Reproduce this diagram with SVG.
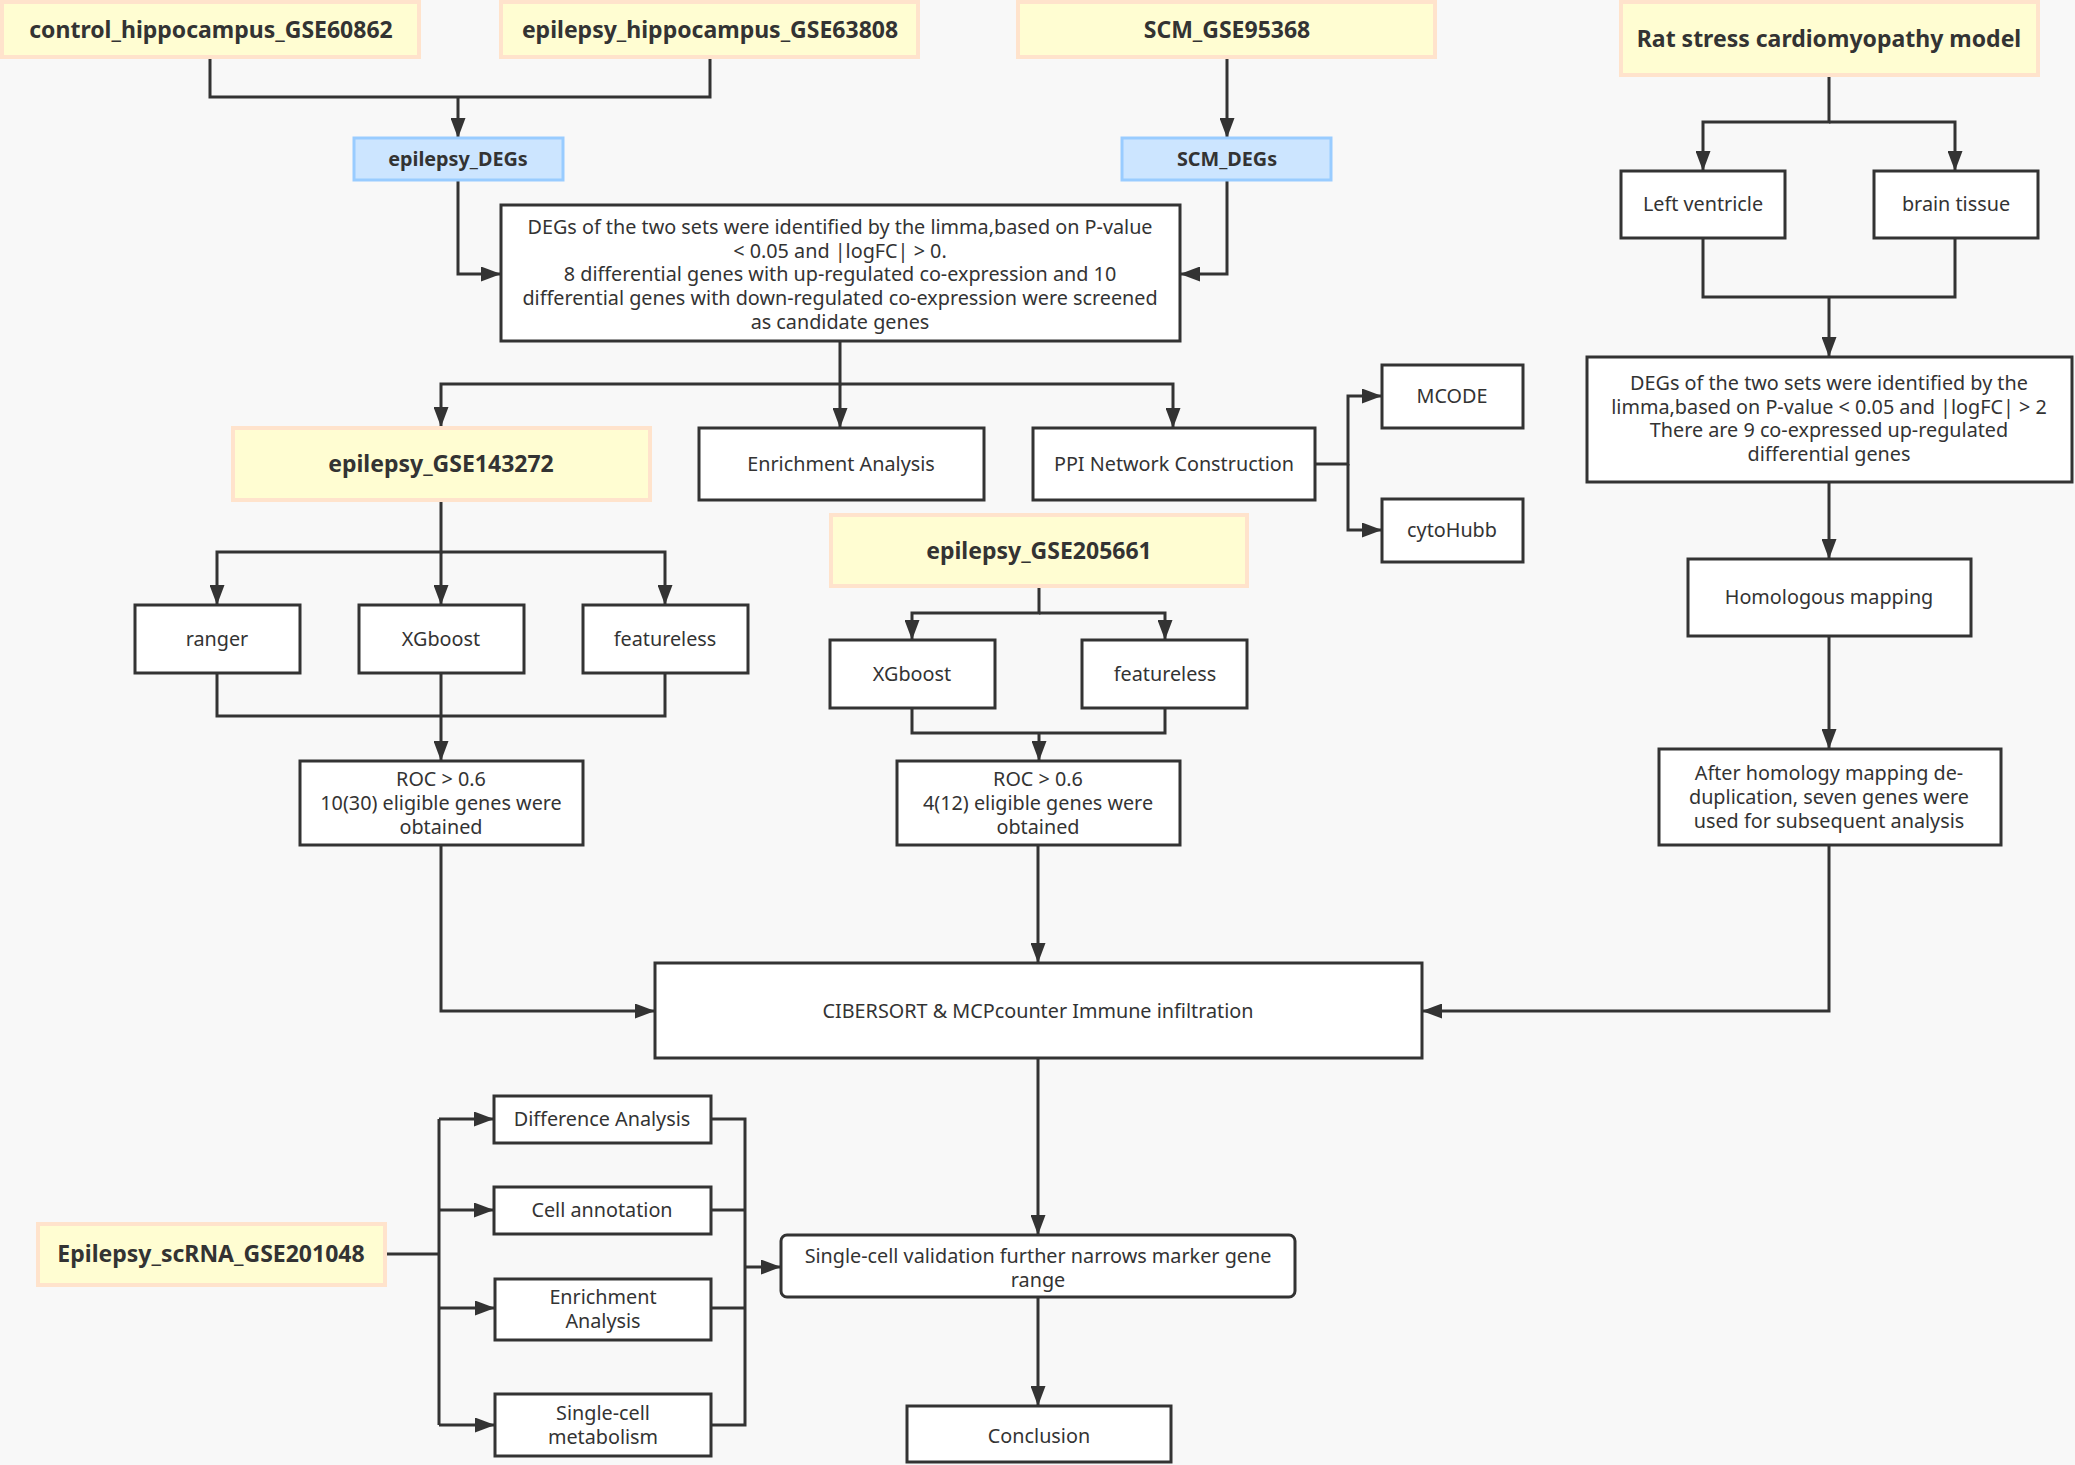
<svg xmlns="http://www.w3.org/2000/svg" width="2075" height="1465" viewBox="0 0 2075 1465">
<style>
.bg{fill:#f8f8f8}
.box{fill:#ffffff;stroke:#333333;stroke-width:3}
.src{fill:#fffdd2;stroke:#ffe3cc;stroke-width:4}
.deg{fill:#cce5ff;stroke:#99ccff;stroke-width:3}
text{font-family:"Noto Sans","Open Sans","DejaVu Sans",sans-serif;fill:#333333;text-anchor:middle;dominant-baseline:central}
.t{font-size:19.8px}
.b{font-size:23px;font-weight:bold}
.bd{font-size:19.8px;font-weight:bold}
.ln{fill:none;stroke:#333333;stroke-width:3}
.ar{fill:none;stroke:#333333;stroke-width:3;marker-end:url(#ah)}
</style>
<defs>
<marker id="ah" markerUnits="userSpaceOnUse" markerWidth="20" markerHeight="15" refX="19" refY="7.5" orient="auto">
<path d="M0,0 L20,7.5 L0,15 z" fill="#333333"/>
</marker>
</defs>
<rect class="bg" x="0" y="0" width="2075" height="1465"/>

<g id="connectors">
<path class="ln" d="M210 59 V97 H710 V59"/>
<path class="ar" d="M458 97 V137"/>
<path class="ar" d="M1227 59 V137"/>
<path class="ar" d="M458 181 V274 H500"/>
<path class="ar" d="M1227 181 V274 H1181"/>
<path class="ar" d="M840 341 V384 H441 V426"/>
<path class="ar" d="M840 384 V427"/>
<path class="ar" d="M840 384 H1173 V427"/>
<path class="ar" d="M1315 464 H1348 V396 H1381"/>
<path class="ar" d="M1348 464 V530 H1381"/>
<path class="ar" d="M1829 77 V122 H1703 V170"/>
<path class="ar" d="M1829 122 H1955 V170"/>
<path class="ln" d="M1703 238 V297 H1955 V238"/>
<path class="ar" d="M1829 297 V356"/>
<path class="ar" d="M1829 482 V558"/>
<path class="ar" d="M1829 636 V748"/>
<path class="ar" d="M1829 845 V1011 H1423"/>
<path class="ar" d="M441 502 V552 H217 V604"/>
<path class="ar" d="M441 552 V604"/>
<path class="ar" d="M441 552 H665 V604"/>
<path class="ln" d="M217 673 V716 H665 V673"/>
<path class="ar" d="M441 673 V760"/>
<path class="ar" d="M1039 588 V613 H912 V639"/>
<path class="ar" d="M1039 613 H1165 V639"/>
<path class="ln" d="M912 708 V733 H1165 V708"/>
<path class="ar" d="M1039 733 V760"/>
<path class="ar" d="M441 845 V1011 H654"/>
<path class="ar" d="M1038 845 V962"/>
<path class="ar" d="M1038 1058 V1234"/>
<path class="ar" d="M1038 1297 V1405"/>
<path class="ln" d="M385 1254 H439"/>
<path class="ln" d="M439 1119 V1425"/>
<path class="ar" d="M439 1119 H493"/>
<path class="ar" d="M439 1210 H493"/>
<path class="ar" d="M439 1308 H494"/>
<path class="ar" d="M439 1425 H494"/>
<path class="ln" d="M711 1119 H745 V1425 H711"/>
<path class="ln" d="M711 1210 H745"/>
<path class="ln" d="M711 1308 H745"/>
<path class="ar" d="M745 1267 H780"/>
</g>

<g id="control_hippocampus"><rect class="src" x="2" y="2" width="417" height="55"/><text class="b" x="211" y="29">control_hippocampus_GSE60862</text></g>
<g id="epilepsy_hippocampus"><rect class="src" x="501" y="2" width="417" height="55"/><text class="b" x="710" y="29">epilepsy_hippocampus_GSE63808</text></g>
<g id="scm_gse95368"><rect class="src" x="1018" y="2" width="417" height="55"/><text class="b" x="1227" y="29">SCM_GSE95368</text></g>
<g id="rat_model"><rect class="src" x="1621" y="2" width="417" height="73"/><text class="b" x="1829" y="38">Rat stress cardiomyopathy model</text></g>
<g id="epilepsy_degs"><rect class="deg" x="354" y="138" width="209" height="42"/><text class="bd" x="458" y="158">epilepsy_DEGs</text></g>
<g id="scm_degs"><rect class="deg" x="1122" y="138" width="209" height="42"/><text class="bd" x="1227" y="158">SCM_DEGs</text></g>
<g id="deg_intersection"><rect class="box" x="501" y="205" width="679" height="136"/>
<text class="t" x="840" y="226">DEGs of the two sets were identified by the limma,based on P-value</text>
<text class="t" x="840" y="250">&lt; 0.05 and |logFC| &gt; 0.</text>
<text class="t" x="840" y="273">8 differential genes with up-regulated co-expression and 10</text>
<text class="t" x="840" y="297">differential genes with down-regulated co-expression were screened</text>
<text class="t" x="840" y="321">as candidate genes</text></g>
<g id="left_ventricle"><rect class="box" x="1621" y="171" width="164" height="67"/><text class="t" x="1703" y="203">Left ventricle</text></g>
<g id="brain_tissue"><rect class="box" x="1874" y="171" width="164" height="67"/><text class="t" x="1956" y="203">brain tissue</text></g>
<g id="rat_degs"><rect class="box" x="1587" y="357" width="485" height="125"/>
<text class="t" x="1829" y="382">DEGs of the two sets were identified by the</text>
<text class="t" x="1829" y="406">limma,based on P-value &lt; 0.05 and |logFC| &gt; 2</text>
<text class="t" x="1829" y="429">There are 9 co-expressed up-regulated</text>
<text class="t" x="1829" y="453">differential genes</text></g>
<g id="epilepsy_gse143272"><rect class="src" x="233" y="428" width="417" height="72"/><text class="b" x="441" y="463">epilepsy_GSE143272</text></g>
<g id="enrichment1"><rect class="box" x="699" y="428" width="285" height="72"/><text class="t" x="841" y="463">Enrichment Analysis</text></g>
<g id="ppi"><rect class="box" x="1033" y="428" width="282" height="72"/><text class="t" x="1174" y="463">PPI Network Construction</text></g>
<g id="mcode"><rect class="box" x="1382" y="365" width="141" height="63"/><text class="t" x="1452" y="395">MCODE</text></g>
<g id="cytohubb"><rect class="box" x="1382" y="499" width="141" height="63"/><text class="t" x="1452" y="529">cytoHubb</text></g>
<g id="epilepsy_gse205661"><rect class="src" x="831" y="515" width="416" height="71"/><text class="b" x="1039" y="550">epilepsy_GSE205661</text></g>
<g id="ranger"><rect class="box" x="135" y="605" width="165" height="68"/><text class="t" x="217" y="638">ranger</text></g>
<g id="xgboost1"><rect class="box" x="359" y="605" width="165" height="68"/><text class="t" x="441" y="638">XGboost</text></g>
<g id="featureless1"><rect class="box" x="583" y="605" width="165" height="68"/><text class="t" x="665" y="638">featureless</text></g>
<g id="xgboost2"><rect class="box" x="830" y="640" width="165" height="68"/><text class="t" x="912" y="673">XGboost</text></g>
<g id="featureless2"><rect class="box" x="1082" y="640" width="165" height="68"/><text class="t" x="1165" y="673">featureless</text></g>
<g id="roc1"><rect class="box" x="300" y="761" width="283" height="84"/>
<text class="t" x="441" y="778">ROC &gt; 0.6</text>
<text class="t" x="441" y="802">10(30) eligible genes were</text>
<text class="t" x="441" y="826">obtained</text></g>
<g id="roc2"><rect class="box" x="897" y="761" width="283" height="84"/>
<text class="t" x="1038" y="778">ROC &gt; 0.6</text>
<text class="t" x="1038" y="802">4(12) eligible genes were</text>
<text class="t" x="1038" y="826">obtained</text></g>
<g id="homologous"><rect class="box" x="1688" y="559" width="283" height="77"/><text class="t" x="1829" y="596">Homologous mapping</text></g>
<g id="after_homology"><rect class="box" x="1659" y="749" width="342" height="96"/>
<text class="t" x="1829" y="772">After homology mapping de-</text>
<text class="t" x="1829" y="796">duplication, seven genes were</text>
<text class="t" x="1829" y="820">used for subsequent analysis</text></g>
<g id="cibersort"><rect class="box" x="655" y="963" width="767" height="95"/><text class="t" x="1038" y="1010">CIBERSORT &amp; MCPcounter Immune infiltration</text></g>
<g id="scrna"><rect class="src" x="38" y="1224" width="347" height="61"/><text class="b" x="211" y="1253">Epilepsy_scRNA_GSE201048</text></g>
<g id="difference"><rect class="box" x="494" y="1096" width="217" height="47"/><text class="t" x="602" y="1118">Difference Analysis</text></g>
<g id="cell_annotation"><rect class="box" x="494" y="1187" width="217" height="47"/><text class="t" x="602" y="1209">Cell annotation</text></g>
<g id="enrichment2"><rect class="box" x="495" y="1279" width="216" height="61"/>
<text class="t" x="603" y="1296">Enrichment</text>
<text class="t" x="603" y="1320">Analysis</text></g>
<g id="metabolism"><rect class="box" x="495" y="1394" width="216" height="62"/>
<text class="t" x="603" y="1412">Single-cell</text>
<text class="t" x="603" y="1436">metabolism</text></g>
<g id="validation"><rect class="box" x="781" y="1235" width="514" height="62" rx="6"/>
<text class="t" x="1038" y="1255">Single-cell validation further narrows marker gene</text>
<text class="t" x="1038" y="1279">range</text></g>
<g id="conclusion"><rect class="box" x="907" y="1406" width="264" height="56"/><text class="t" x="1039" y="1435">Conclusion</text></g>
</svg>
